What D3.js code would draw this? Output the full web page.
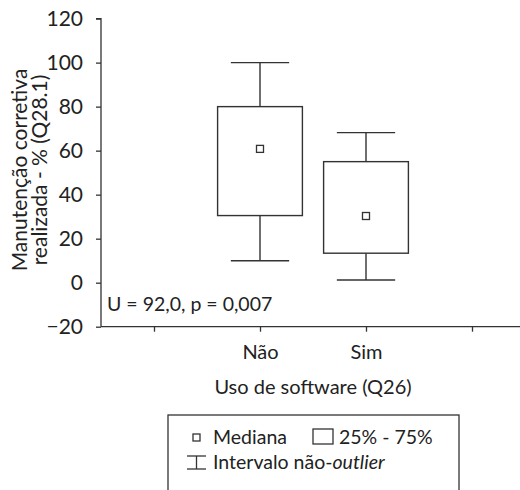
<!DOCTYPE html>
<html><head><meta charset="utf-8">
<script src="https://cdn.jsdelivr.net/npm/d3@7"></script>
<style>body{margin:0;background:#fff}svg{display:block}text{font-family:Lato,"Open Sans",sans-serif;fill:#222}</style>
</head><body><svg id="c" width="520" height="490"></svg>
<script>
const categories = ["Não", "Sim"];
const catPos = [1, 2];
const tickPositions = [0, 1, 2, 3];
const whiskerLow = [10, 1.2];
const q1 = [30.5, 13.4];
const median = [60.8, 30.3];
const q3 = [80, 55];
const whiskerHigh = [100, 68.2];
const yTicks = [-20, 0, 20, 40, 60, 80, 100, 120];
const statText = "U = 92,0, p = 0,007";

const svg = d3.select("#c");
const x = d3.scaleLinear().domain([-0.5, 3.5]).range([101, 525]);
const y = d3.scaleLinear().domain([-20, 120]).range([326.7, 18.6]);
const step = x(1) - x(0);
const stroke = "#333";

const yAxis = svg.append("g").attr("transform", "translate(101,0)")
  .call(d3.axisLeft(y).tickValues(yTicks).tickSize(5).tickPadding(13).tickFormat(d => d < 0 ? "\u2212" + Math.abs(d) : d));
yAxis.select(".domain").attr("d", `M-5,${y(120)}H0V${y(-20)}`);
yAxis.selectAll("text").style("font-size", "21px").attr("fill", "#222");
yAxis.selectAll("line,path").attr("stroke", stroke).attr("stroke-width", 1.3);

const xAxis = svg.append("g").attr("transform", `translate(0,${y(-20)})`)
  .call(d3.axisBottom(x).tickValues(tickPositions).tickSize(5).tickPadding(13)
    .tickFormat(d => { const i = catPos.indexOf(d); return i >= 0 ? categories[i] : ""; }));
xAxis.select(".domain").attr("d", `M101,0H520`);
xAxis.selectAll("text").style("font-size", "20px").attr("fill", "#222");
xAxis.selectAll("line,path").attr("stroke", stroke).attr("stroke-width", 1.3);

const g = svg.append("g");
categories.forEach((c, i) => {
  const cx = x(catPos[i]);
  const bw = step * 0.8, cw = step * 0.55;
  g.append("line").attr("x1", cx).attr("x2", cx).attr("y1", y(whiskerHigh[i])).attr("y2", y(q3[i])).attr("stroke", stroke).attr("stroke-width", 1.4);
  g.append("line").attr("x1", cx).attr("x2", cx).attr("y1", y(q1[i])).attr("y2", y(whiskerLow[i])).attr("stroke", stroke).attr("stroke-width", 1.4);
  g.append("line").attr("x1", cx - cw/2).attr("x2", cx + cw/2).attr("y1", y(whiskerHigh[i])).attr("y2", y(whiskerHigh[i])).attr("stroke", stroke).attr("stroke-width", 1.4);
  g.append("line").attr("x1", cx - cw/2).attr("x2", cx + cw/2).attr("y1", y(whiskerLow[i])).attr("y2", y(whiskerLow[i])).attr("stroke", stroke).attr("stroke-width", 1.4);
  g.append("rect").attr("x", cx - bw/2).attr("width", bw).attr("y", y(q3[i])).attr("height", y(q1[i]) - y(q3[i]))
    .attr("fill", "#fff").attr("stroke", stroke).attr("stroke-width", 1.4);
  g.append("rect").attr("x", cx - 3.5).attr("y", y(median[i]) - 3.5).attr("width", 7).attr("height", 7)
    .attr("fill", "#fff").attr("stroke", stroke).attr("stroke-width", 1.3);
});

svg.append("text").attr("x", 107).attr("y", 311).style("font-size", "19.5px").text(statText);

svg.append("text").attr("x", 313).attr("y", 394).attr("text-anchor", "middle").style("font-size", "20px").text("Uso de software (Q26)");

const yl = svg.append("text").attr("transform", "translate(0,170) rotate(-90)").attr("text-anchor", "middle").style("font-size", "21px");
yl.append("tspan").attr("x", 0).attr("y", 27).text("Manutenção corretiva");
yl.append("tspan").attr("x", 0).attr("y", 47).text("realizada - % (Q28.1)");

// legend
const lg = svg.append("g");
lg.append("rect").attr("x", 168).attr("y", 415).attr("width", 291).attr("height", 100).attr("fill", "none").attr("stroke", stroke).attr("stroke-width", 1.3);
lg.append("rect").attr("x", 193).attr("y", 434).attr("width", 7).attr("height", 7).attr("fill", "#fff").attr("stroke", stroke).attr("stroke-width", 1.3);
lg.append("text").attr("x", 213).attr("y", 444).style("font-size", "19.5px").text("Mediana");
lg.append("rect").attr("x", 313).attr("y", 429).attr("width", 20).attr("height", 15).attr("fill", "#fff").attr("stroke", stroke).attr("stroke-width", 1.3);
lg.append("text").attr("x", 339).attr("y", 444).style("font-size", "19.5px").text("25% - 75%");
lg.append("line").attr("x1", 187).attr("x2", 206).attr("y1", 456).attr("y2", 456).attr("stroke", stroke).attr("stroke-width", 1.3);
lg.append("line").attr("x1", 187).attr("x2", 206).attr("y1", 469).attr("y2", 469).attr("stroke", stroke).attr("stroke-width", 1.3);
lg.append("line").attr("x1", 196.5).attr("x2", 196.5).attr("y1", 456).attr("y2", 469).attr("stroke", stroke).attr("stroke-width", 1.3);
const t2 = lg.append("text").attr("x", 213).attr("y", 469).style("font-size", "19.5px");
t2.append("tspan").text("Intervalo não-");
t2.append("tspan").style("font-style", "italic").text("outlier");
</script></body></html>
